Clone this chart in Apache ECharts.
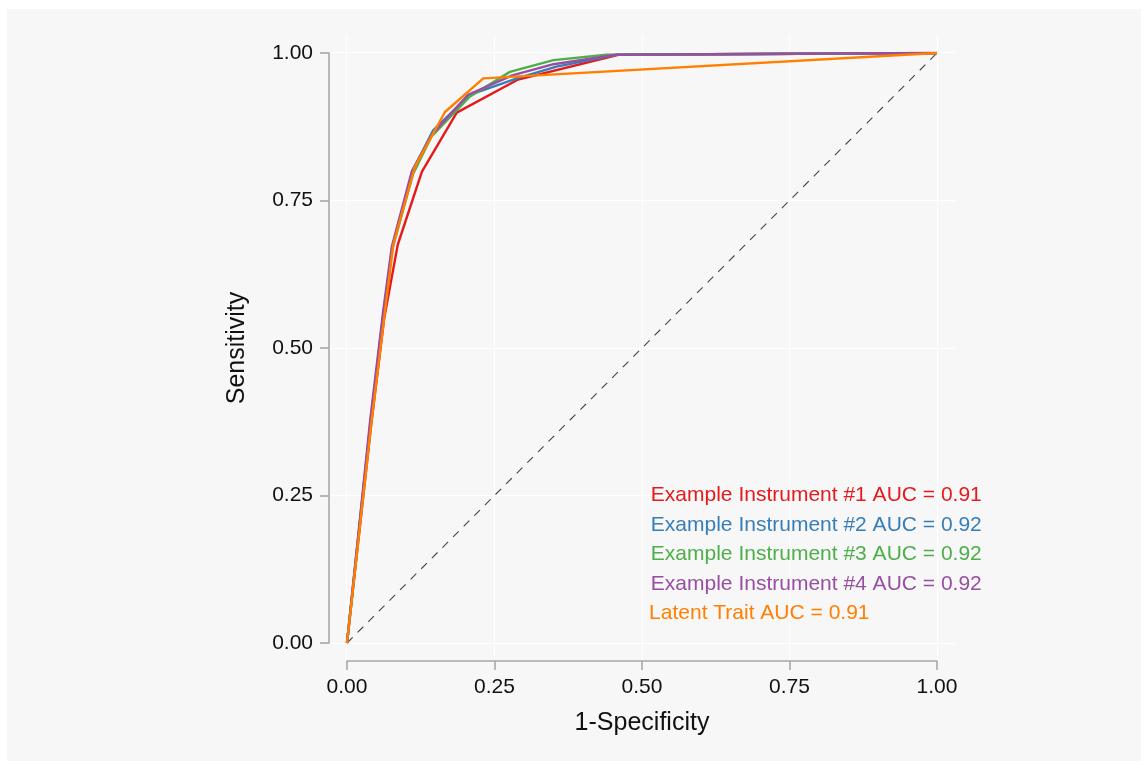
<!DOCTYPE html>
<html>
<head>
<meta charset="utf-8">
<title>ROC curves</title>
<script src="https://cdn.jsdelivr.net/npm/echarts@6/dist/echarts.min.js"></script>
<style>
  html, body { margin: 0; padding: 0; background: #ffffff; }
  #panel { position: absolute; left: 7px; top: 9px; width: 1134px; height: 752px; background: #f7f7f7; }
  #chart { position: absolute; left: 0; top: 0; width: 1148px; height: 770px; }
</style>
</head>
<body>
<div id="panel"></div>
<div id="chart"></div>
<script>
// ROC curve points: [1 - specificity, sensitivity]
const instrument1 = [[0,0],[0.041,0.37],[0.063,0.55],[0.086,0.675],[0.127,0.799],[0.186,0.899],[0.290,0.955],[0.460,0.997],[1,1]];
const instrument2 = [[0,0],[0.040,0.375],[0.062,0.56],[0.077,0.672],[0.111,0.80],[0.146,0.869],[0.208,0.929],[0.288,0.957],[0.355,0.977],[0.457,0.997],[1,1]];
const instrument3 = [[0,0],[0.040,0.375],[0.062,0.56],[0.077,0.668],[0.112,0.795],[0.143,0.858],[0.208,0.926],[0.276,0.968],[0.350,0.988],[0.440,0.997],[1,1]];
const instrument4 = [[0,0],[0.039,0.375],[0.061,0.56],[0.076,0.672],[0.110,0.80],[0.144,0.862],[0.205,0.929],[0.280,0.962],[0.350,0.981],[0.457,0.997],[1,1]];
const latentTrait = [[0,0],[0.041,0.37],[0.064,0.559],[0.0785,0.675],[0.115,0.807],[0.166,0.90],[0.231,0.957],[1,1]];
const chanceLine = [[0,0],[1,1]];

const curveNames = ['Example Instrument #1', 'Example Instrument #2', 'Example Instrument #3', 'Example Instrument #4', 'Latent Trait'];
const curveColors = ['#E41A1C', '#377EB8', '#4DAF4A', '#984EA3', '#FF7F00'];
const aucValues = [0.91, 0.92, 0.92, 0.92, 0.91];

// AUC annotation anchor points (left edge of each label)
const labelX = [0.515, 0.515, 0.515, 0.515, 0.512];
const labelY = [0.25, 0.20, 0.15, 0.10, 0.05];

const tickValues = [0, 0.25, 0.5, 0.75, 1];

const curves = [instrument1, instrument2, instrument3, instrument4, latentTrait];
const axisGray = '#a8a8a8';
const textFont = 'Liberation Sans, Arial, Helvetica, sans-serif';

const chart = echarts.init(document.getElementById('chart'), null, { renderer: 'canvas' });

const lineSeries = curves.map((pts, i) => ({
  name: curveNames[i],
  type: 'line',
  xAxisIndex: 1,
  yAxisIndex: 1,
  data: pts,
  showSymbol: false,
  symbol: 'none',
  z: 3 + i,
  lineStyle: { color: curveColors[i], width: 2.4 }
}));

const labelData = curveNames.map((n, i) => ({
  value: [labelX[i], labelY[i]],
  label: { formatter: n + ' AUC = ' + aucValues[i].toFixed(2), color: curveColors[i] }
}));

function dataAxis(title, gap, margin, rotate) {
  return {
    gridIndex: 1, type: 'value', min: 0, max: 1, interval: 0.25,
    offset: 18,
    axisLine: { show: true, onZero: false, lineStyle: { color: axisGray, width: 1.6 } },
    axisTick: { show: true, length: 9, lineStyle: { color: axisGray, width: 1.6 } },
    axisLabel: {
      show: true, fontSize: 21, color: '#111', margin: margin,
      showMinLabel: true, showMaxLabel: true,
      formatter: v => v.toFixed(2)
    },
    splitLine: { show: false },
    name: title, nameLocation: 'middle', nameGap: gap, nameRotate: rotate,
    nameTextStyle: { fontSize: 25, color: '#111' }
  };
}

function panelAxis() {
  return {
    gridIndex: 0, type: 'value', min: -0.03, max: 1.03,
    axisLine: { show: false },
    axisTick: { show: false, customValues: tickValues },
    axisLabel: { show: false, customValues: tickValues },
    splitLine: { show: true, lineStyle: { color: '#ffffff', width: 1.2 } }
  };
}

chart.setOption({
  animation: false,
  textStyle: { fontFamily: textFont },
  grid: [
    { left: 329, top: 35, width: 626, height: 626 },
    { left: 347, top: 53, width: 590, height: 590 }
  ],
  xAxis: [panelAxis(), dataAxis('1-Specificity', 50, 16, 0)],
  yAxis: [panelAxis(), dataAxis('Sensitivity', 79, 16, 90)],
  series: [
    {
      name: 'Chance',
      type: 'line',
      xAxisIndex: 1, yAxisIndex: 1,
      data: chanceLine,
      showSymbol: false, symbol: 'none',
      z: 2,
      lineStyle: { color: '#444444', width: 1.1, type: [8, 7] }
    },
    ...lineSeries,
    {
      name: 'AUC labels',
      type: 'scatter',
      xAxisIndex: 1, yAxisIndex: 1,
      symbolSize: 0,
      itemStyle: { opacity: 1 },
      data: labelData,
      z: 10,
      label: { show: true, position: 'right', distance: 0, fontSize: 21, fontFamily: textFont },
      emphasis: { disabled: true }
    }
  ]
});
</script>
</body>
</html>
